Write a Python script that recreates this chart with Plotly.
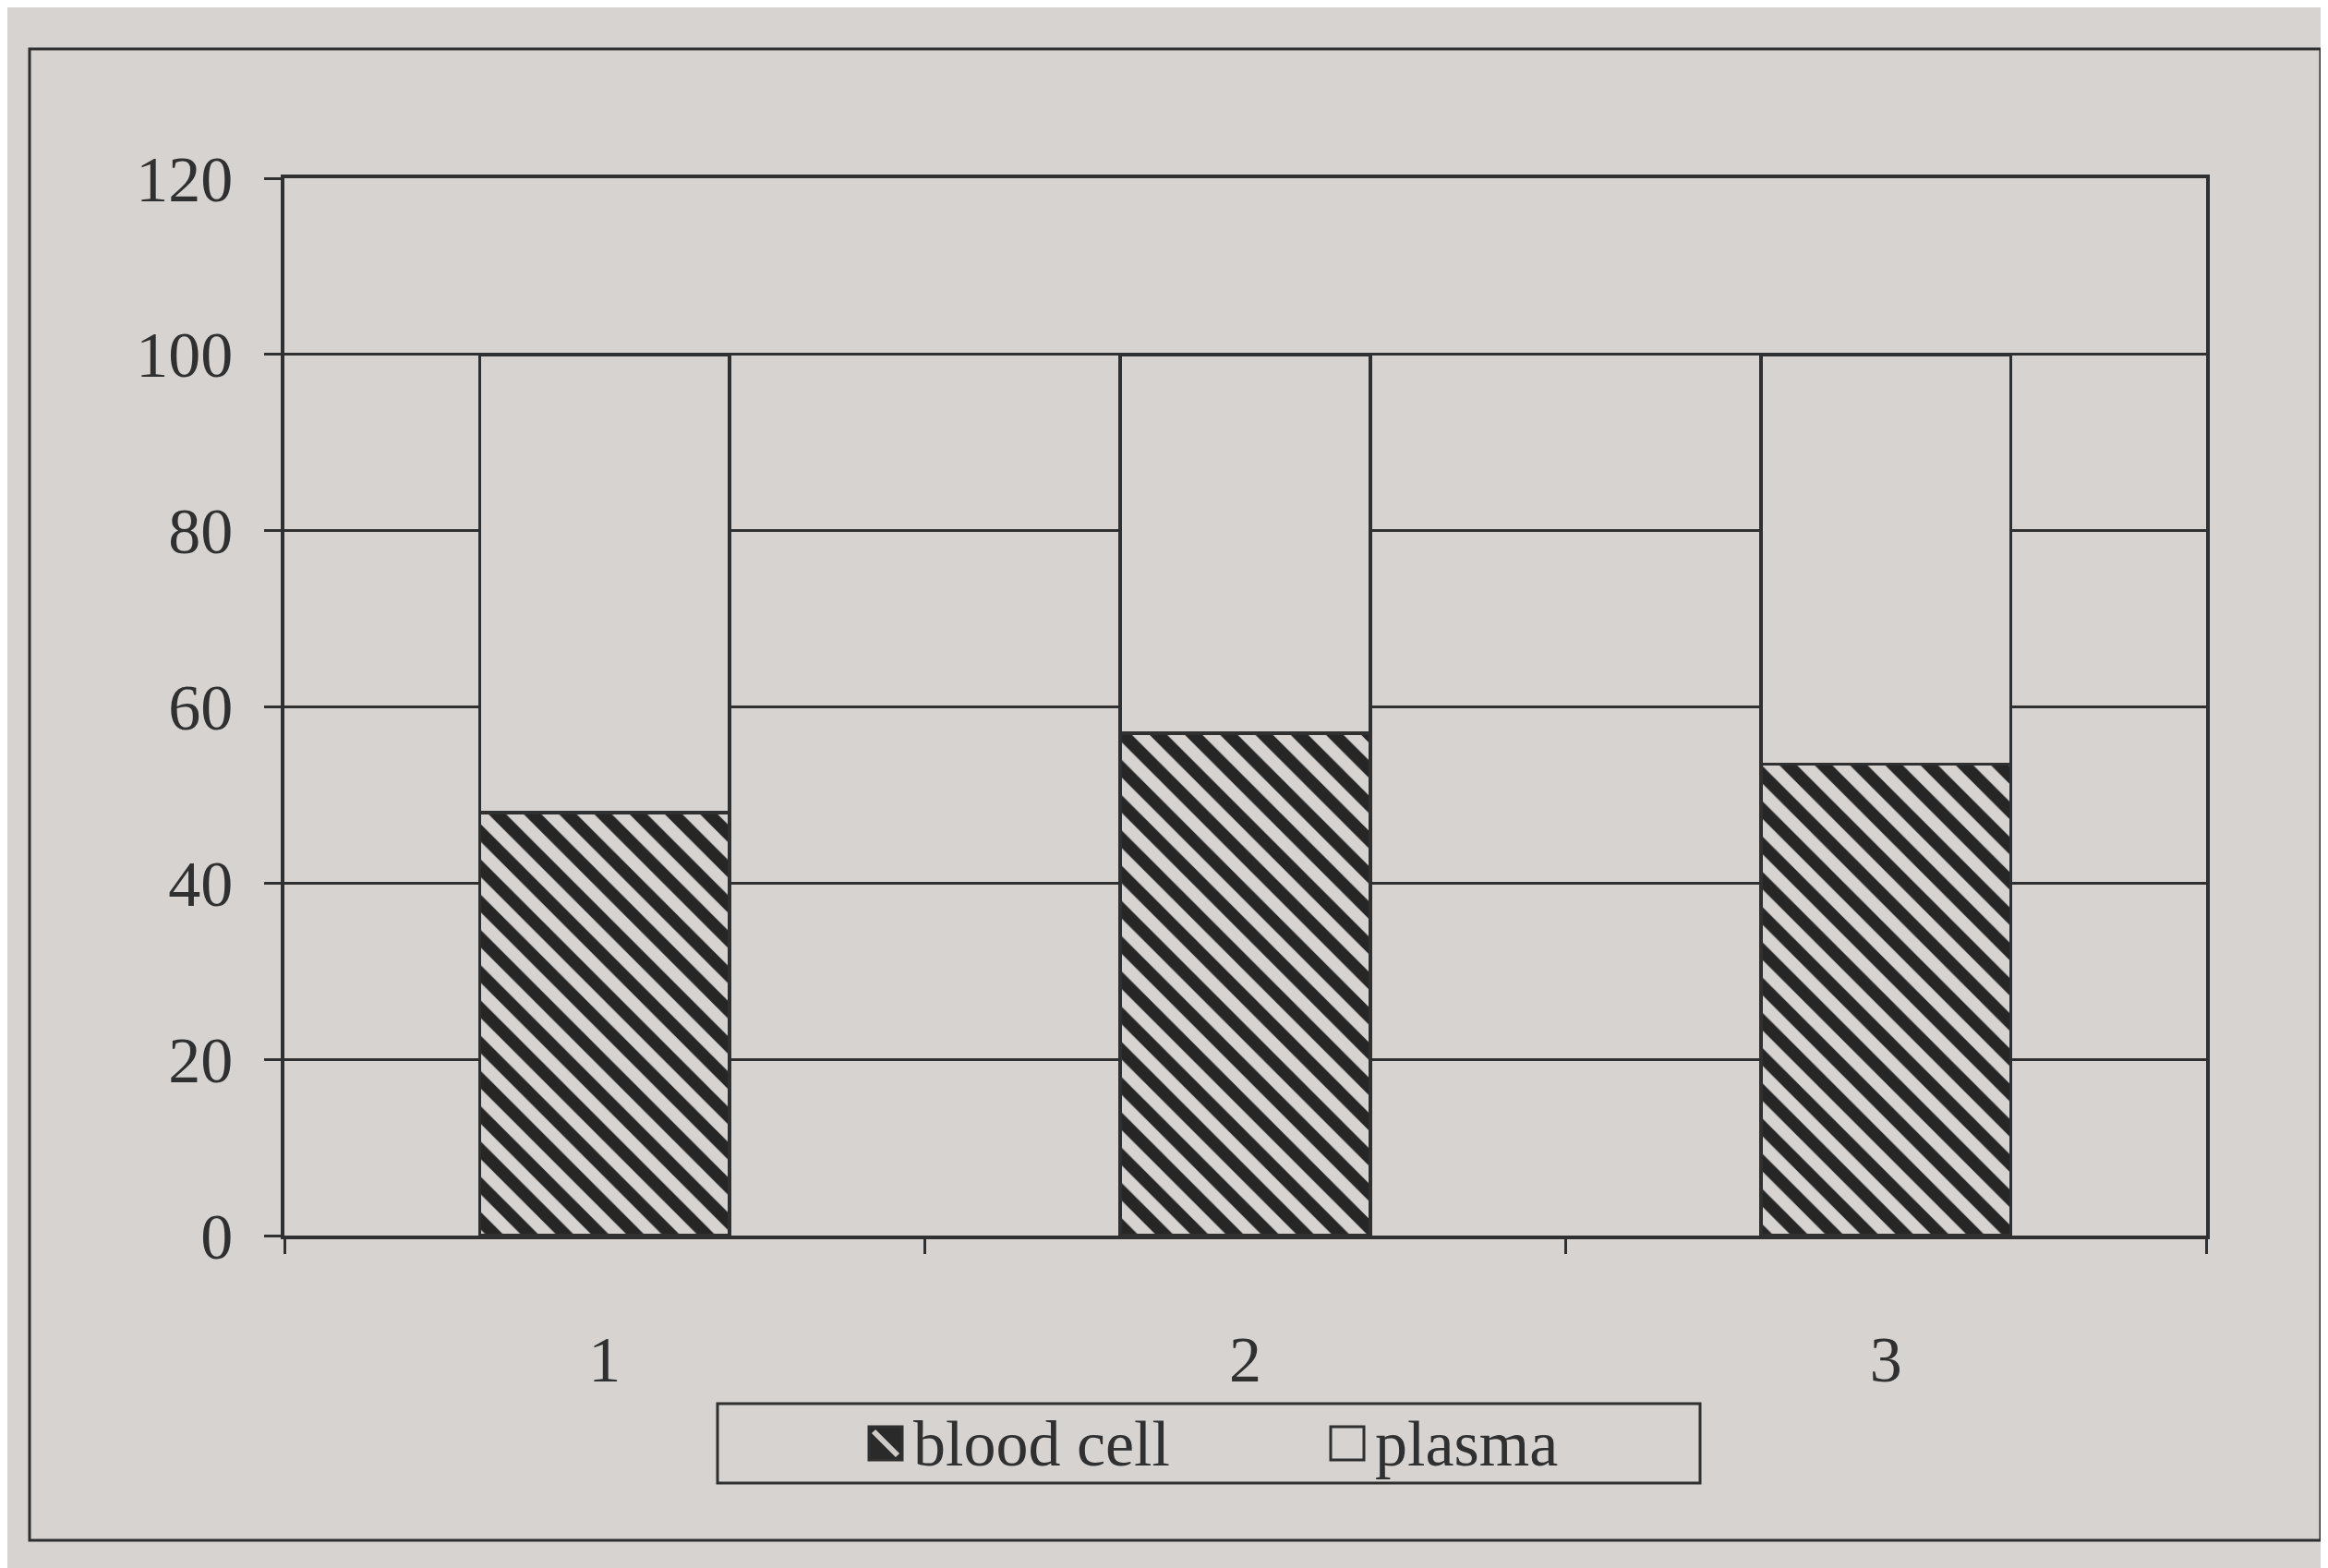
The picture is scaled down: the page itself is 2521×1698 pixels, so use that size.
import plotly.graph_objects as go

categories = ["1", "2", "3"]
blood_cell = [48, 57, 53.5]
plasma = [52, 43, 46.5]
y_ticks = [0, 20, 40, 60, 80, 100, 120]
legend_labels = ["blood cell", "plasma"]

W, H = 2521, 1698
L, R, T, B = 300, 140, 185, 368
PAPER = "#d7d3d0"
INK = "#303030"
FONT = "Liberation Serif, Times New Roman, serif"

fig = go.Figure()
fig.add_trace(go.Bar(
    x=categories, y=blood_cell, name=legend_labels[0],
    marker=dict(color=PAPER, line=dict(color=INK, width=3.5),
                pattern=dict(shape="\\", fgcolor="#262626", bgcolor=PAPER,
                             fgopacity=1, size=27, solidity=0.5,
                             fillmode="overlay")),
))
fig.add_trace(go.Bar(
    x=categories, y=plasma, name=legend_labels[1],
    marker=dict(color=PAPER, line=dict(color=INK, width=3.5)),
))

pw = W - L - R
ph = H - T - B
def px(x):
    return (x - L) / pw
def py(y):
    return (H - B - y) / ph

# outer frame
fig.add_shape(type="rect", xref="paper", yref="paper",
              x0=px(24), x1=px(2505), y0=py(1660), y1=py(45),
              line=dict(color="#2e2e2e", width=3), layer="below")

# legend box (drawn manually to match the large swatches)
fig.add_shape(type="rect", xref="paper", yref="paper",
              x0=px(769), x1=px(1833), y0=py(1598), y1=py(1512),
              line=dict(color=INK, width=3), fillcolor=PAPER, layer="above")
cy = 1555
s = 36
# blood cell swatch: dark square with light diagonal
sx = 933
fig.add_shape(type="rect", xref="paper", yref="paper",
              x0=px(sx), x1=px(sx + s), y0=py(cy + s / 2), y1=py(cy - s / 2),
              line=dict(color=INK, width=3), fillcolor="#2a2a2a", layer="above")
fig.add_shape(type="line", xref="paper", yref="paper",
              x0=px(sx + 5), x1=px(sx + s - 5), y0=py(cy - s / 2 + 5), y1=py(cy + s / 2 - 5),
              line=dict(color="#cfcbc8", width=6), layer="above")
fig.add_annotation(text=legend_labels[0], xref="paper", yref="paper",
                   x=px(sx + s + 10), y=py(cy), xanchor="left", yanchor="middle",
                   showarrow=False, font=dict(family=FONT, size=70, color=INK))
# plasma swatch
sx2 = 1433
fig.add_shape(type="rect", xref="paper", yref="paper",
              x0=px(sx2), x1=px(sx2 + s), y0=py(cy + s / 2), y1=py(cy - s / 2),
              line=dict(color=INK, width=3), fillcolor=PAPER, layer="above")
fig.add_annotation(text=legend_labels[1], xref="paper", yref="paper",
                   x=px(sx2 + s + 10), y=py(cy), xanchor="left", yanchor="middle",
                   showarrow=False, font=dict(family=FONT, size=70, color=INK))

fig.update_layout(
    width=W, height=H,
    barmode="stack", bargap=0.61,
    paper_bgcolor=PAPER, plot_bgcolor=PAPER,
    margin=dict(l=L, r=R, t=T, b=B),
    font=dict(family=FONT, size=70, color=INK),
    showlegend=False,
)
fig.update_yaxes(range=[0, 120], tickvals=y_ticks, ticks="outside", ticklen=18,
                 tickwidth=3, tickcolor=INK, showline=True, linecolor=INK,
                 linewidth=3.5, mirror=True, showgrid=True, gridcolor=INK,
                 gridwidth=3, zeroline=False, ticklabelstandoff=20)
fig.update_xaxes(ticks="outside", tickson="boundaries", ticklen=16, tickwidth=3,
                 tickcolor=INK, showline=True, linecolor=INK, linewidth=3.5,
                 mirror=True, showgrid=False, ticklabelstandoff=70)

fig.write_html("out.html")
